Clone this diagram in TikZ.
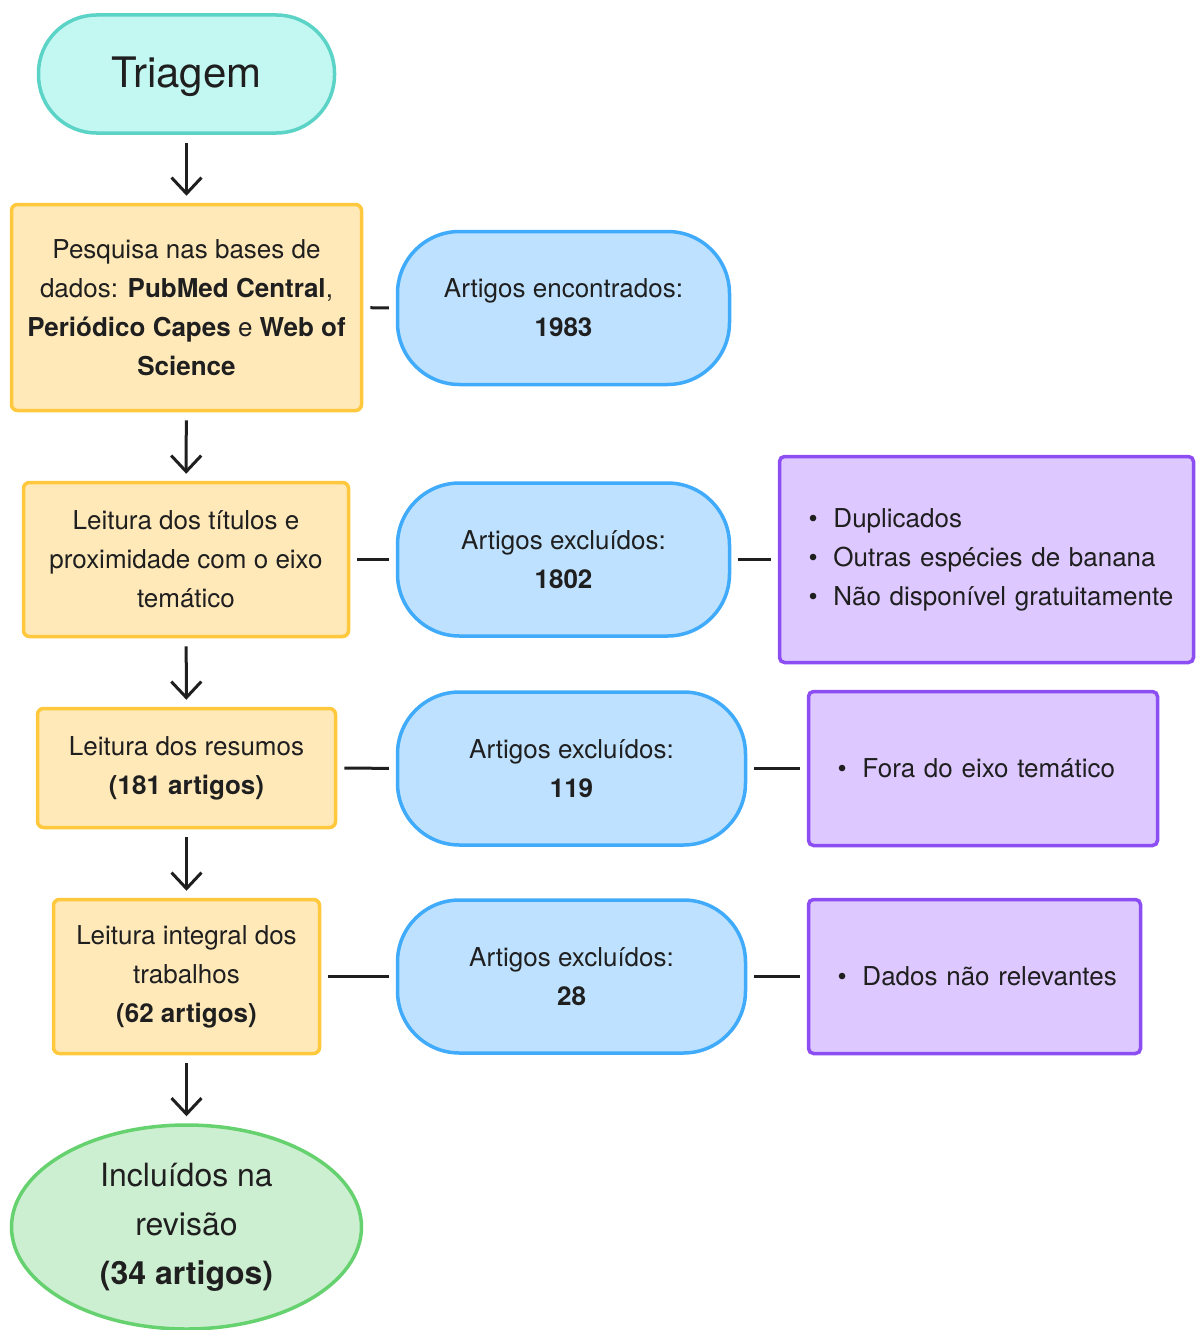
\documentclass[tikz,border=0pt]{standalone}
\usepackage{fontspec}
\setmainfont{TeX Gyre Heros}
\usepackage{tikz}
\usetikzlibrary{positioning,arrows.meta,shapes.geometric}
\definecolor{ink}     {HTML}{1F1F1F}
\definecolor{startfill}{HTML}{C3F8F2}
\definecolor{startline}{HTML}{5BD3C6}
\definecolor{stagefill}{HTML}{FFE9B9}
\definecolor{stageline}{HTML}{FFC83D}
\definecolor{countfill}{HTML}{BEE1FF}
\definecolor{countline}{HTML}{40ABFA}
\definecolor{notefill} {HTML}{DDC8FF}
\definecolor{noteline} {HTML}{8C4DF2}
\definecolor{endfill}  {HTML}{CDEFD1}
\definecolor{endline}  {HTML}{66D16F}
\tikzset{
  body/.style={font=\fontsize{26}{39}\selectfont,text=ink,align=center,inner sep=0pt},
  stagebox/.style={body,draw=stageline,fill=stagefill,line width=3.5pt,
    rounded corners=6pt,minimum width=#1},
  countbox/.style={body,draw=countline,fill=countfill,line width=3.5pt,
    rounded corners=62pt,minimum height=153pt,minimum width=#1},
  notebox/.style={body,draw=noteline,fill=notefill,line width=3.5pt,
    rounded corners=5pt,align=left,inner xsep=29pt,text width=#1},
  flow/.style={-{Straight Barb[length=16pt,width=30pt,line width=3pt]},
    line width=3pt,draw=ink,shorten <=8pt,shorten >=7pt},
  link/.style={line width=3pt,draw=ink,shorten <=7pt,shorten >=7pt},
}
\newcommand{\itm}[1]{\mbox{\makebox[25pt][l]{\textbullet}#1}}

\begin{document}
\begin{tikzpicture}[x=1pt,y=-1pt]
  \useasboundingbox (0,0) rectangle (1196,1330);

  % main column
  \node[body,draw=startline,fill=startfill,line width=3.5pt,rounded corners=58pt,
        minimum width=296pt,minimum height=118pt,font=\fontsize{42}{50}\selectfont,
        text height=37pt,text depth=9pt]
    (triagem) at (186.5,74) {Triagem};
  \node[stagebox=350pt,minimum height=206pt] (busca) at (186.5,307.5)
    {Pesquisa nas bases de\\ dados: \textbf{PubMed Central},\\
     \textbf{Periódico Capes} e \textbf{Web of}\\ \textbf{Science}};
  \node[stagebox=325pt,minimum height=154pt] (titulos) at (186,559.5)
    {Leitura dos títulos e\\ proximidade com o eixo\\ temático};
  \node[stagebox=298pt,minimum height=119pt] (resumos) at (186.5,768)
    {Leitura dos resumos\\ \textbf{(181 artigos)}};
  \node[stagebox=266pt,minimum height=154pt] (integral) at (186.5,976.5)
    {Leitura integral dos\\ trabalhos\\ \textbf{(62 artigos)}};
  \node[body,ellipse,draw=endline,fill=endfill,line width=3.5pt,
        minimum width=350pt,minimum height=204pt,
        font=\fontsize{32}{49}\selectfont] (incluidos) at (186.5,1227)
    {Incluídos na\\ revisão\\ \textbf{(34 artigos)}};

  % counts
  \node[countbox=332pt] (n1983) at (563.5,308) {Artigos encontrados:\\ \textbf{1983}};
  \node[countbox=332pt] (n1802) at (563.5,559.5) {Artigos excluídos:\\ \textbf{1802}};
  \node[countbox=348pt] (n119)  at (571.5,768.5) {Artigos excluídos:\\ \textbf{119}};
  \node[countbox=348pt] (n28)   at (571.5,976.5) {Artigos excluídos:\\ \textbf{28}};

  % reasons
  \node[notebox=356pt,minimum height=206pt] (motivos1) at (986.5,559.5)
    {\itm{Duplicados}\\ \itm{Outras espécies de banana}\\ \itm{Não disponível gratuitamente}};
  \node[notebox=291pt,minimum height=154pt] (motivos2) at (983,768.5)
    {\itm{Fora do eixo temático}};
  \node[notebox=274pt,minimum height=154pt] (motivos3) at (974.5,976.5)
    {\itm{Dados não relevantes}};

  \draw[flow] (triagem) -- (busca);
  \draw[flow] (busca) -- (titulos);
  \draw[flow] (titulos) -- (resumos);
  \draw[flow] (resumos) -- (integral);
  \draw[flow] (integral) -- (incluidos);

  \draw[link] (busca) -- (n1983);
  \draw[link] (titulos) -- (n1802);
  \draw[link] (resumos) -- (n119);
  \draw[link] (integral) -- (n28);
  \draw[link] (n1802) -- (motivos1);
  \draw[link] (n119) -- (motivos2);
  \draw[link] (n28) -- (motivos3);
\end{tikzpicture}
\end{document}
